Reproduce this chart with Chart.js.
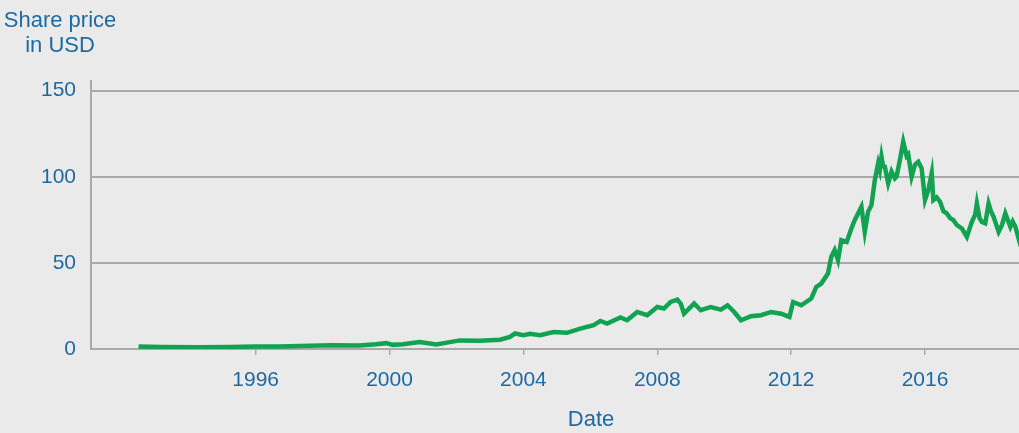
<!DOCTYPE html>
<html lang="en">
<head>
    <meta charset="UTF-8">
    <title>Share price</title>
    <script src="https://cdn.jsdelivr.net/npm/chart.js"></script>
    <style type="text/css">
        body{
            margin: 0;
            overflow: hidden;
            background-color: #eaeaea;
            font-family: 'Liberation Sans', Arial, sans-serif;
        }
        .wrap{
            position: relative;
            width: 1100px;
            height: 433px;
        }
    </style>
</head>
<body>
    <div class="wrap">
        <canvas id="priceChart"></canvas>
    </div>

    <script>
        // values (decimal year, USD)
        const years = [1992.5, 1993.2, 1994.3, 1995.2, 1996.0, 1996.7, 1997.3, 1998.3, 1999.1, 1999.6,
            1999.9, 2000.1, 2000.4, 2000.9, 2001.4, 2001.8, 2002.1, 2002.7, 2003.3, 2003.6,
            2003.75, 2004.0, 2004.2, 2004.5, 2004.9, 2005.3, 2005.7, 2006.1, 2006.3, 2006.5,
            2006.9, 2007.1, 2007.4, 2007.7, 2008.0, 2008.2, 2008.4, 2008.6, 2008.7, 2008.8,
            2009.0, 2009.1, 2009.3, 2009.6, 2009.9, 2010.1, 2010.3, 2010.5, 2010.8, 2011.1,
            2011.4, 2011.7, 2011.95, 2012.06, 2012.3, 2012.6, 2012.75, 2012.9, 2013.1, 2013.2,
            2013.3, 2013.4, 2013.5, 2013.66, 2013.8, 2013.9, 2014.1, 2014.2, 2014.3, 2014.4,
            2014.5, 2014.6, 2014.65, 2014.7, 2014.75, 2014.8, 2014.9, 2015.0, 2015.1, 2015.15,
            2015.25, 2015.35, 2015.45, 2015.5, 2015.6, 2015.7, 2015.8, 2015.9, 2016.0, 2016.1,
            2016.2, 2016.25, 2016.35, 2016.45, 2016.55, 2016.65, 2016.75, 2016.85, 2016.95, 2017.1,
            2017.25, 2017.4, 2017.5, 2017.55, 2017.63, 2017.7, 2017.8, 2017.9, 2017.97, 2018.05,
            2018.2, 2018.3, 2018.4, 2018.55, 2018.62, 2018.7, 2018.85, 2019.0];
        const prices = [1.4, 1.2, 1.0, 1.1, 1.4, 1.5, 1.8, 2.2, 2.0, 2.7,
            3.4, 2.4, 2.8, 4.0, 2.6, 4.0, 5.0, 4.8, 5.4, 7.0,
            9.0, 8.0, 8.8, 8.0, 9.8, 9.4, 11.8, 13.8, 16.3, 14.8,
            18.3, 16.7, 21.5, 19.6, 24.4, 23.5, 27.3, 28.7, 26.4, 20.6,
            24.4, 26.4, 22.5, 24.4, 22.9, 25.4, 21.5, 16.7, 19.0, 19.6,
            21.5, 20.5, 18.6, 27.3, 25.4, 29.3, 36, 38, 43.8, 53.5,
            57.4, 51.6, 63.2, 62.2, 70, 74.8, 82.6, 68, 79.7, 83.5,
            98, 107.8, 104, 111.6, 106, 105.8, 96.2, 103, 99, 100,
            109.7, 120.3, 112, 113, 100, 107, 108.7, 104.9, 86.5, 92.3,
            102, 86.5, 88, 85.5, 80, 78.7, 76, 74.8, 72, 70,
            65.1, 73.8, 78, 84.5, 76, 73.8, 73, 84.5, 80, 76.7,
            68, 72, 78.7, 70.9, 74, 71, 60.3, 56];
        const xTickYears = [1996, 2000, 2004, 2008, 2012, 2016, 2020];
        const yTickValues = [0, 50, 100, 150];

        const blue = '#1c6aa3';
        const gridGray = '#a9a9a9';

        // two-line axis caption in the top left corner
        const captionPlugin = {
            id: 'caption',
            afterDraw: function(chart) {
                const ctx = chart.ctx;
                ctx.save();
                ctx.fillStyle = blue;
                ctx.font = "22px 'Liberation Sans', Arial, sans-serif";
                ctx.textAlign = 'center';
                ctx.textBaseline = 'alphabetic';
                ctx.fillText('Share price', 60, 27);
                ctx.fillText('in USD', 60, 52);
                ctx.restore();
            }
        };

        const priceData = {
            datasets: [{
                label: 'Share price',
                data: years.map(function(y, i) { return {x: y, y: prices[i]}; }),
                borderColor: '#11a351',
                borderWidth: 4.5,
                pointRadius: 0,
                tension: 0,
                fill: false
            }]
        };

        const priceConfig = {
            type: 'line',
            data: priceData,
            options: {
                responsive: true,
                maintainAspectRatio: false,
                animation: false,
                layout: {
                    padding: {top: 81, right: 9, left: 0, bottom: 0}
                },
                plugins: {
                    legend: {display: false},
                    tooltip: {enabled: false}
                },
                scales: {
                    x: {
                        type: 'linear',
                        min: 1991.08,
                        max: 2020.96,
                        afterBuildTicks: function(scale) {
                            scale.ticks = xTickYears.map(function(v) { return {value: v}; });
                        },
                        afterFit: function(scale) {
                            scale.height = 84;
                        },
                        grid: {
                            drawOnChartArea: false,
                            drawTicks: true,
                            tickLength: 6,
                            color: gridGray,
                            lineWidth: 1.5
                        },
                        border: {
                            display: true,
                            color: gridGray,
                            width: 2
                        },
                        ticks: {
                            color: blue,
                            padding: 13,
                            maxRotation: 0,
                            autoSkip: false,
                            font: {size: 21, family: "'Liberation Sans', Arial, sans-serif"},
                            callback: function(value) { return String(value); }
                        },
                        title: {
                            display: true,
                            text: 'Date',
                            color: blue,
                            padding: {top: 0, bottom: 0},
                            font: {size: 22, family: "'Liberation Sans', Arial, sans-serif"}
                        }
                    },
                    y: {
                        min: 0,
                        max: 155.6,
                        afterBuildTicks: function(scale) {
                            scale.ticks = yTickValues.map(function(v) { return {value: v}; });
                        },
                        afterFit: function(scale) {
                            scale.width = 91;
                        },
                        grid: {
                            drawTicks: false,
                            color: gridGray,
                            lineWidth: 2
                        },
                        border: {
                            display: true,
                            color: gridGray,
                            width: 2
                        },
                        ticks: {
                            color: blue,
                            padding: 15,
                            font: {size: 21, family: "'Liberation Sans', Arial, sans-serif"}
                        }
                    }
                }
            },
            plugins: [captionPlugin]
        };

        window.onload = function() {
            new Chart(document.getElementById('priceChart'), priceConfig);
        };
    </script>
</body>
</html>
